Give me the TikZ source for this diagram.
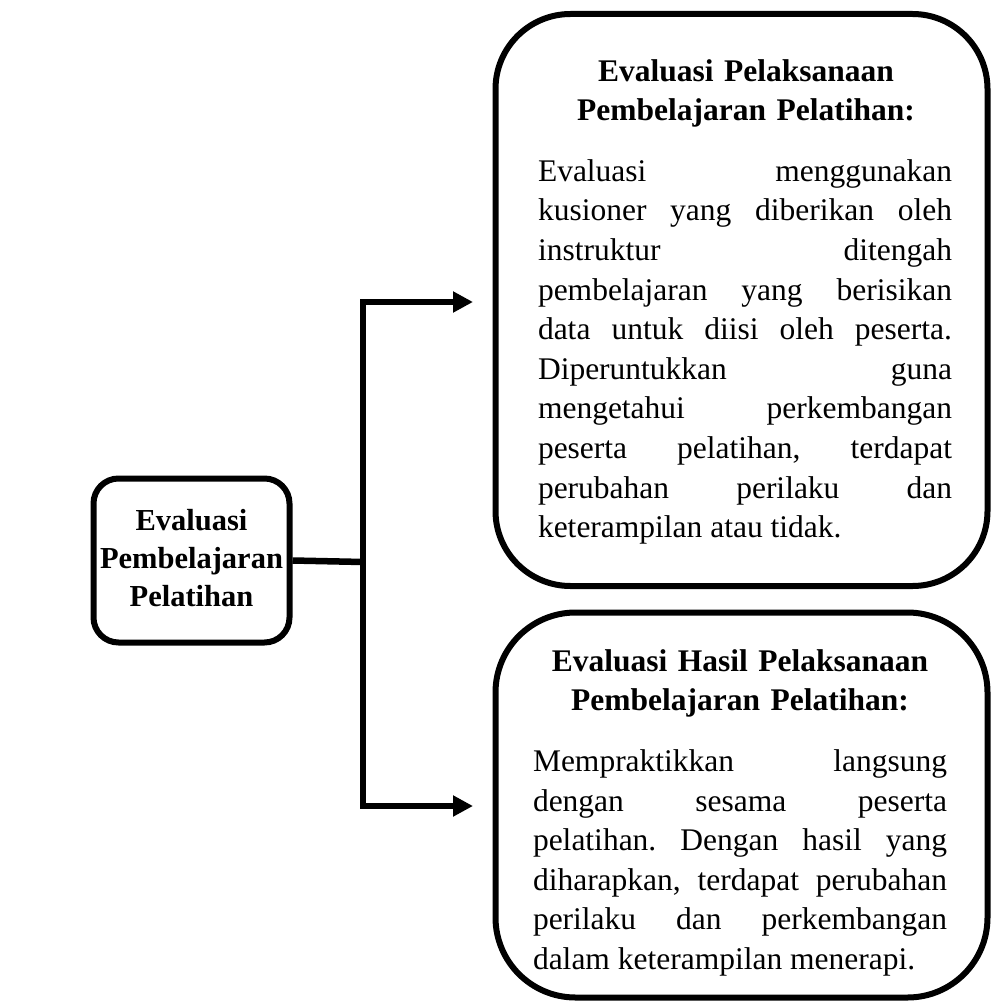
\documentclass[tikz,border=0pt]{standalone}
\usepackage{fontspec}
\setmainfont{Liberation Serif}
\usetikzlibrary{arrows.meta}
\setlength{\parindent}{0pt}
\frenchspacing
\hyphenpenalty=10000
\exhyphenpenalty=10000
% type sizes used in the chart
\newcommand{\headfont}{\fontsize{31.5}{39.6}\selectfont\bfseries}
\newcommand{\sidefont}{\fontsize{30.5}{38}\selectfont\bfseries}
\newcommand{\bodyfont}{\fontsize{31.5}{39.6}\selectfont}
\begin{document}
\begin{tikzpicture}[x=1pt,y=-1pt,
  roundbox/.style={draw, line width=6pt, rounded corners=#1, inner sep=0pt},
  conn/.style={line width=6.5pt, line join=miter},
  headtxt/.style={font=\headfont, text width=430pt, align=center, inner sep=0pt, anchor=north},
  sidetxt/.style={font=\sidefont, text width=200pt, align=center, inner sep=0pt, anchor=north},
  bodytxt/.style={font=\bodyfont, text width=414pt, align=justify, inner sep=0pt, anchor=north}]
\useasboundingbox (0,0) rectangle (992,1003);

% frames
\node[roundbox=25pt, minimum width=196pt, minimum height=164pt] (main) at (191.5,560.5) {};
\node[roundbox=75pt, minimum width=492pt, minimum height=572pt] (upper) at (741.5,300) {};
\node[roundbox=80pt, minimum width=492pt, minimum height=385pt] (lower) at (741.5,805) {};

% left box label (strut height = 0.7 x 38pt)
\node[sidetxt] (mainlbl) at (191.5,503.4) {\strut Evaluasi\\ Pembelajaran\\ Pelatihan};

% upper box texts (strut height = 0.7 x 39.6pt)
\node[headtxt] (upperhead) at (746,53.3) {\strut Evaluasi Pelaksanaan\\ Pembelajaran Pelatihan:};
\node[bodytxt] (upperbody) at (745,153.3) {\strut Evaluasi menggunakan\linebreak
 kusioner yang diberikan oleh\linebreak
 instruktur ditengah\linebreak
 pembelajaran yang berisikan\linebreak
 data untuk diisi oleh peserta.\linebreak
 Diperuntukkan guna\linebreak
 mengetahui perkembangan\linebreak
 peserta pelatihan, terdapat\linebreak
 perubahan perilaku dan\linebreak
 keterampilan atau tidak.};

% lower box texts
\node[headtxt] (lowerhead) at (740,643.3) {\strut Evaluasi Hasil Pelaksanaan\\ Pembelajaran Pelatihan:};
\node[bodytxt] (lowerbody) at (740,743.6) {\strut Mempraktikkan langsung\linebreak
 dengan sesama peserta\linebreak
 pelatihan. Dengan hasil yang\linebreak
 diharapkan, terdapat perubahan\linebreak
 perilaku dan perkembangan\linebreak
 dalam keterampilan menerapi.};

% branching connector
\coordinate (hub) at (363,562);
\coordinate (jtop) at (363,302);
\coordinate (jbot) at (363,806);
\coordinate (ttop) at (473,302);
\coordinate (tbot) at (473,806);
\draw[conn] (main.east) -- (hub);
\draw[conn, {Triangle[length=20pt,width=20pt]}-{Triangle[length=20pt,width=20pt]}]
  (ttop) -- (jtop) -- (jbot) -- (tbot);
\end{tikzpicture}
\end{document}
